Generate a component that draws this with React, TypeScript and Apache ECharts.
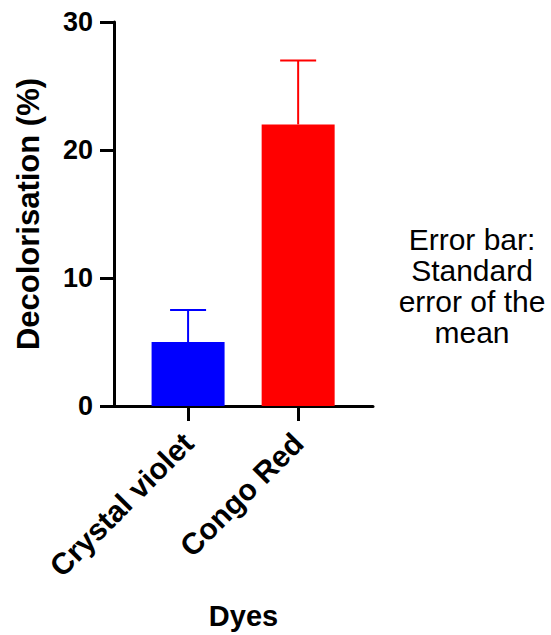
import React, { useEffect, useRef } from "react";
import * as echarts from "echarts";

const categories = ["Crystal violet", "Congo Red"];
const positions = [1, 2];
const means = [5, 22];
const sems = [2.5, 5];
const colors = ["#0000FF", "#FF0000"];
const yTicks = [0, 10, 20, 30];
const noteLines = ["Error bar:", "Standard", "error of the", "mean"];

const FONT = "'Liberation Sans', Arial, Helvetica, sans-serif";

export default function App() {
  const ref = useRef<HTMLDivElement>(null);
  useEffect(() => {
    if (!ref.current) return;
    const chart = echarts.init(ref.current, null, { renderer: "svg" });
    const barData = positions.map((p, i) => ({
      value: [p, means[i]],
      itemStyle: { color: colors[i] },
    }));
    const errData = positions.map((p, i) => [p, means[i], means[i] + sems[i], i]);
    chart.setOption({
      animation: false,
      backgroundColor: "#ffffff",
      grid: { left: 114, right: 178, top: 22, bottom: 229 },
      xAxis: {
        type: "value",
        min: 0.327,
        max: 2.68,
        name: "Dyes",
        nameLocation: "middle",
        nameGap: 195,
        nameTextStyle: { fontFamily: FONT, fontSize: 29, fontWeight: "bold", color: "#000" },
        splitLine: { show: false },
        axisLine: { show: true, lineStyle: { color: "#000", width: 3 } },
        axisTick: {
          show: true,
          customValues: positions,
          length: 15,
          lineStyle: { color: "#000", width: 3 },
        },
        axisLabel: {
          customValues: positions,
          rotate: 45,
          margin: 32,
          fontFamily: FONT,
          fontSize: 30,
          fontWeight: "bold",
          color: "#000",
          formatter: (v: number) => categories[positions.indexOf(Math.round(v))] ?? "",
        },
      },
      yAxis: {
        type: "value",
        min: 0,
        max: 30,
        interval: 10,
        name: "Decolorisation (%)",
        nameLocation: "middle",
        nameGap: 70,
        nameTextStyle: { fontFamily: FONT, fontSize: 31, fontWeight: "bold", color: "#000" },
        splitLine: { show: false },
        axisLine: { show: true, lineStyle: { color: "#000", width: 3 } },
        axisTick: { show: true, length: 14, lineStyle: { color: "#000", width: 3 } },
        axisLabel: {
          margin: 21,
          fontFamily: FONT,
          fontSize: 27,
          fontWeight: "bold",
          color: "#000",
          customValues: yTicks,
        },
      },
      series: [
        {
          type: "bar",
          data: barData,
          barWidth: 73,
        },
        {
          type: "custom",
          data: errData,
          z: 3,
          renderItem: (params: any, api: any) => {
            const x = api.value(0);
            const lo = api.coord([x, api.value(1)]);
            const hi = api.coord([x, api.value(2)]);
            const c = colors[api.value(3)];
            const half = 18;
            return {
              type: "group",
              children: [
                {
                  type: "line",
                  shape: { x1: lo[0], y1: lo[1], x2: hi[0], y2: hi[1] },
                  style: { stroke: c, lineWidth: 2 },
                },
                {
                  type: "line",
                  shape: { x1: hi[0] - half, y1: hi[1], x2: hi[0] + half, y2: hi[1] },
                  style: { stroke: c, lineWidth: 2 },
                },
              ],
            };
          },
        },
      ],
      graphic: [
        {
          type: "text",
          x: 472,
          y: 224,
          style: {
            text: noteLines.join("\n"),
            fontFamily: FONT,
            fontSize: 30,
            lineHeight: 31,
            fill: "#000",
            align: "center",
            verticalAlign: "top",
          },
        },
      ],
    });
    return () => chart.dispose();
  }, []);
  return (
    <div
      ref={ref}
      style={{ position: "absolute", left: 0, top: 0, width: 551, height: 635 }}
    />
  );
}
